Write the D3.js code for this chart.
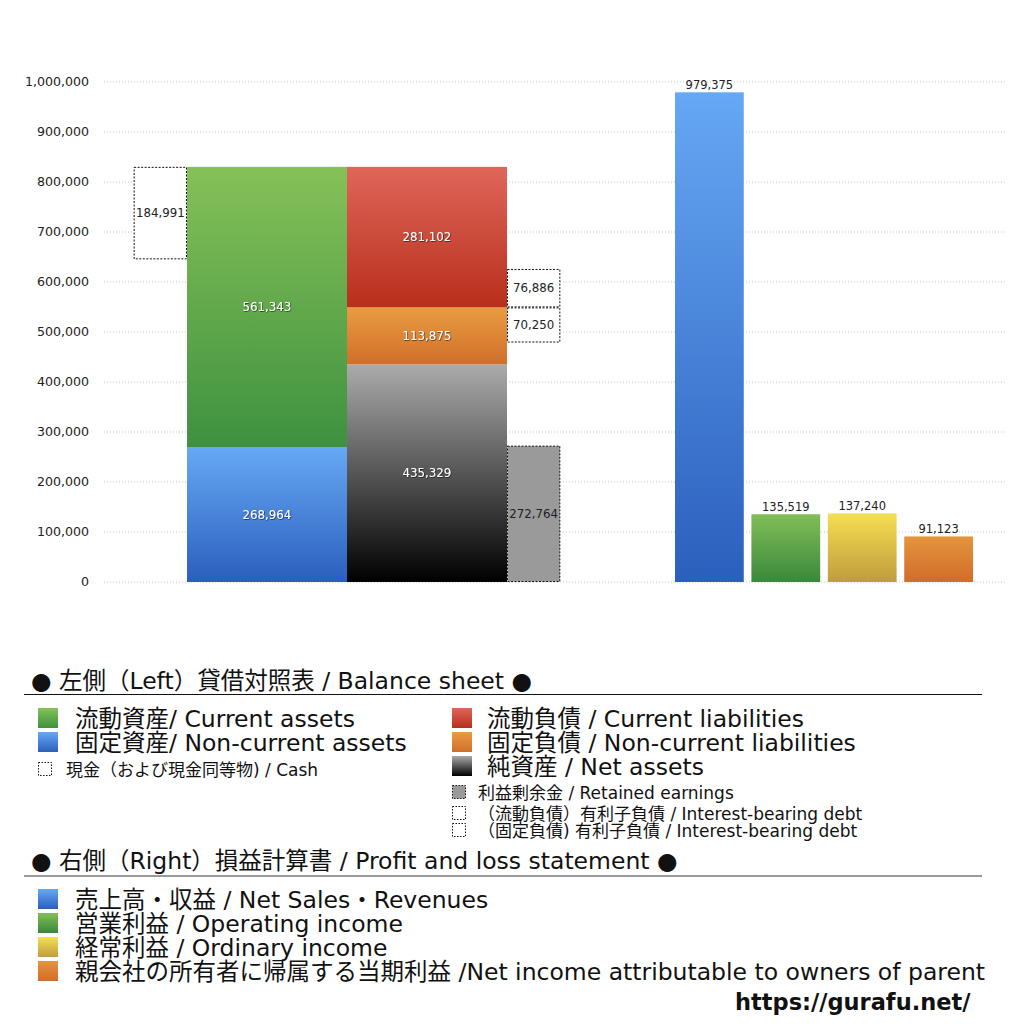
<!DOCTYPE html>
<html>
<head>
<meta charset="utf-8">
<script src="https://cdn.jsdelivr.net/npm/d3@7"></script>
<style>
  body { margin: 0; background: #fff; }
  text { font-family: "DejaVu Sans", "Noto Sans CJK JP", sans-serif; }
</style>
</head>
<body>
<div id="chart"></div>
<script>
// balance sheet (left)
var assetNames = ["固定資産", "流動資産"];
var assetValues = [268964, 561343];
var liabNames = ["純資産", "固定負債", "流動負債"];
var liabValues = [435329, 113875, 281102];
var cashValue = 184991;
var debtCurrent = 76886;
var debtNonCurrent = 70250;
var retainedEarnings = 272764;
var bsColumns = ["資産", "負債・純資産"];

// profit and loss (right)
var plNames = ["売上高", "営業利益", "経常利益", "当期利益"];
var plValues = [979375, 135519, 137240, 91123];

var yTickValues = [0, 100000, 200000, 300000, 400000, 500000, 600000, 700000, 800000, 900000, 1000000];

var width = 1024, height = 1024;
var fmt = d3.format(",");

var svg = d3.select("#chart").append("svg")
   .attr("width", width)
   .attr("height", height);

var defs = svg.append("defs");
function grad(id, top, bottom) {
   var g = defs.append("linearGradient").attr("id", id)
      .attr("x1", 0).attr("y1", 0).attr("x2", 0).attr("y2", 1);
   g.append("stop").attr("offset", "0%").attr("stop-color", top);
   g.append("stop").attr("offset", "100%").attr("stop-color", bottom);
}
grad("gGreen", "#86c158", "#3e9140");
grad("gBlue", "#66a8f4", "#2b5fbd");
grad("gRed", "#df665a", "#b82f1b");
grad("gOrange", "#ea9c42", "#d06f2b");
grad("gGray", "#ababab", "#000000");
grad("gPlBlue", "#66a8f4", "#2b5fbd");
grad("gPlGreen", "#82be57", "#3a883b");
grad("gYellow", "#f4df52", "#bf9c3e");
grad("gPlOrange", "#e4953d", "#d16c2b");

var shadow = defs.append("filter").attr("id", "shadow");
shadow.append("feDropShadow").attr("dx", 0.6).attr("dy", 0.6)
   .attr("stdDeviation", 0.5).attr("flood-color", "#000").attr("flood-opacity", 0.8);

var y = d3.scaleLinear().domain([0, 1000000]).range([582, 82]);

// grid + axis labels
var grid = svg.append("g");
grid.selectAll("line").data(yTickValues).enter().append("line")
   .attr("x1", 104).attr("x2", 1005)
   .attr("y1", function(d) { return y(d); })
   .attr("y2", function(d) { return y(d); })
   .attr("stroke", "#c4c4c4")
   .attr("stroke-dasharray", "1,2");
grid.selectAll("text").data(yTickValues).enter().append("text")
   .attr("x", 89)
   .attr("y", function(d) { return y(d); })
   .attr("dy", "0.35em")
   .attr("text-anchor", "end")
   .attr("font-size", 12.6)
   .attr("fill", "#222")
   .text(function(d) { return fmt(d); });

// left: balance sheet
var xL = d3.scaleBand().domain(bsColumns).range([187, 507]);
var side = xL.bandwidth() / 3;

function stackOf(values) {
   var acc = 0;
   return values.map(function(v) { var s = {y0: acc, y1: acc + v, v: v}; acc += v; return s; });
}
var assetStack = stackOf(assetValues);
var liabStack = stackOf(liabValues);
var totalAssets = d3.sum(assetValues);
var assetFills = ["url(#gBlue)", "url(#gGreen)"];
var liabFills = ["url(#gGray)", "url(#gOrange)", "url(#gRed)"];

function drawStack(stack, col, fills) {
   var g = svg.append("g");
   g.selectAll("rect").data(stack).enter().append("rect")
      .attr("x", xL(col))
      .attr("width", xL.bandwidth())
      .attr("y", function(d) { return y(d.y1); })
      .attr("height", function(d) { return y(d.y0) - y(d.y1); })
      .attr("fill", function(d, i) { return fills[i]; });
   g.selectAll("text").data(stack).enter().append("text")
      .attr("x", xL(col) + xL.bandwidth() / 2)
      .attr("y", function(d) { return (y(d.y0) + y(d.y1)) / 2; })
      .attr("dy", "0.35em")
      .attr("text-anchor", "middle")
      .attr("font-size", 11.8)
      .attr("fill", "#fff")
      .attr("filter", "url(#shadow)")
      .text(function(d) { return fmt(d.v); });
}
drawStack(assetStack, bsColumns[0], assetFills);
drawStack(liabStack, bsColumns[1], liabFills);

// dotted side boxes
var liabSplit = liabValues[0] + liabValues[1];
var boxes = [
   {x: xL(bsColumns[0]) - side, top: totalAssets, v: cashValue, fill: "#fff"},
   {x: xL(bsColumns[1]) + xL.bandwidth(), top: liabSplit + debtCurrent, v: debtCurrent, fill: "#fff"},
   {x: xL(bsColumns[1]) + xL.bandwidth(), top: liabSplit, v: debtNonCurrent, fill: "#fff"},
   {x: xL(bsColumns[1]) + xL.bandwidth(), top: retainedEarnings, v: retainedEarnings, fill: "#9a9a9a"}
];
var bx = svg.append("g");
bx.selectAll("rect").data(boxes).enter().append("rect")
   .attr("x", function(d) { return d.x + 0.5; })
   .attr("width", side - 1)
   .attr("y", function(d) { return y(d.top) + 0.5; })
   .attr("height", function(d) { return y(d.top - d.v) - y(d.top) - 1; })
   .attr("fill", function(d) { return d.fill; })
   .attr("stroke", "#111")
   .attr("stroke-dasharray", "2,1.5");
bx.selectAll("text").data(boxes).enter().append("text")
   .attr("x", function(d) { return d.x + side / 2; })
   .attr("y", function(d) { return (y(d.top) + y(d.top - d.v)) / 2; })
   .attr("dy", "0.35em")
   .attr("text-anchor", "middle")
   .attr("font-size", 11.8)
   .attr("fill", "#222")
   .text(function(d) { return fmt(d.v); });

// right: P&L
var xR = d3.scaleBand().domain(plNames).range([675, 973]).paddingInner(0.1);
var plFills = ["url(#gPlBlue)", "url(#gPlGreen)", "url(#gYellow)", "url(#gPlOrange)"];
var pl = svg.append("g");
pl.selectAll("rect").data(plValues).enter().append("rect")
   .attr("x", function(d, i) { return xR(plNames[i]); })
   .attr("width", xR.bandwidth())
   .attr("y", function(d) { return y(d); })
   .attr("height", function(d) { return y(0) - y(d); })
   .attr("fill", function(d, i) { return plFills[i]; });
pl.selectAll("text").data(plValues).enter().append("text")
   .attr("x", function(d, i) { return xR(plNames[i]) + xR.bandwidth() / 2; })
   .attr("y", function(d) { return y(d) - 3; })
   .attr("text-anchor", "middle")
   .attr("font-size", 11.5)
   .attr("fill", "#222")
   .text(function(d) { return fmt(d); });

// legend
var lg = svg.append("g");
function txt(x, yy, s, size) {
   return lg.append("text").attr("x", x).attr("y", yy).attr("font-size", size).attr("fill", "#111").text(s);
}
function sw(x, yy, s, fill, dotted) {
   var r = lg.append("rect").attr("x", x).attr("y", yy).attr("width", s).attr("height", s).attr("fill", fill);
   if (dotted) r.attr("stroke", "#111").attr("stroke-dasharray", "1.5,1.5").attr("x", x + 0.5).attr("y", yy + 0.5)
      .attr("width", s - 1).attr("height", s - 1);
}

var big = 23.5, small = 17;
txt(31, 689, "● 左側（Left）貸借対照表 / Balance sheet ●", big);
lg.append("line").attr("x1", 24).attr("x2", 982).attr("y1", 694.5).attr("y2", 694.5).attr("stroke", "#111");

sw(38, 708, 20, "url(#gGreen)");
txt(75, 727, "流動資産/ Current assets", big);
sw(38, 732, 20, "url(#gBlue)");
txt(75, 751, "固定資産/ Non-current assets", big);
sw(38, 762, 14, "#fff", true);
txt(66, 776, "現金（および現金同等物) / Cash", small);

sw(452, 708, 20, "url(#gRed)");
txt(487, 727, "流動負債 /  Current liabilities", big);
sw(452, 732, 20, "url(#gOrange)");
txt(487, 751, "固定負債 / Non-current liabilities", big);
sw(452, 756, 20, "url(#gGray)");
txt(487, 775, "純資産 / Net assets", big);
sw(452, 785, 14, "#9a9a9a", true);
txt(478, 799, "利益剰余金 / Retained earnings", small);
sw(452, 806, 14, "#fff", true);
txt(478, 820, "（流動負債）有利子負債 / Interest-bearing debt", small);
sw(452, 823, 14, "#fff", true);
txt(478, 837, "（固定負債) 有利子負債 / Interest-bearing debt", small);

txt(31, 869, "● 右側（Right）損益計算書 / Profit and loss statement ●", big);
lg.append("line").attr("x1", 24).attr("x2", 982).attr("y1", 876).attr("y2", 876).attr("stroke", "#777").attr("stroke-width", 1.5);

var plLegend = [
   "売上高・収益 / Net Sales・Revenues",
   "営業利益 / Operating income",
   "経常利益 / Ordinary income",
   "親会社の所有者に帰属する当期利益 /Net income attributable to owners of parent"
];
plLegend.forEach(function(s, i) {
   sw(38, 889 + i * 24, 20, plFills[i]);
   txt(75, 908 + i * 24, s, big);
});

lg.append("text").attr("x", 735).attr("y", 1010)
   .attr("font-weight", "bold").attr("font-size", 22.5).attr("fill", "#111")
   .text("https://gurafu.net/");
</script>
</body>
</html>
